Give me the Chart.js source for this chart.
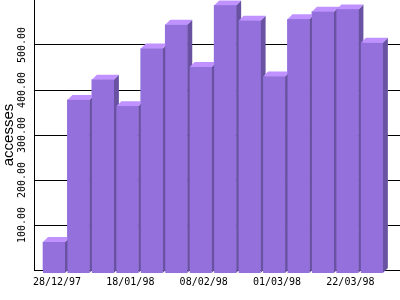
<!DOCTYPE html>
<html>
<head>
<meta charset="utf-8">
<script src="https://cdn.jsdelivr.net/npm/chart.js@4"></script>
<style>
  body { margin: 0; background: #fff; }
  #wrap { width: 400px; height: 300px; }
</style>
</head>
<body>
<div id="wrap"><canvas id="myChart" width="400" height="300"></canvas></div>
<script>
// weekly accesses
const weeks = ['28/12/97', '04/01/98', '11/01/98', '18/01/98', '25/01/98', '01/02/98', '08/02/98',
               '15/02/98', '22/02/98', '01/03/98', '08/03/98', '15/03/98', '22/03/98', '29/03/98'];
const accesses = [62, 378, 423, 364, 492, 545, 451, 588, 554, 430, 557, 574, 579, 505];
const shownWeeks = [0, 3, 6, 9, 12];
const yTicks = [100, 200, 300, 400, 500];

const FRONT = 'rgb(147, 112, 219)';
const TOP = 'rgb(192, 146, 255)';
const SIDE = 'rgb(106, 82, 163)';

// draws the fake 3d look, bar by bar so the next bar covers the side of the previous
const bars3d = {
    id: 'bars3d',
    afterDatasetsDraw(chart) {
        const ctx = chart.ctx;
        const meta = chart.getDatasetMeta(0);
        const d = 5, drop = 3.5;
        ctx.save();
        meta.data.forEach(bar => {
            const p = bar.getProps(['x', 'y', 'width', 'base'], true);
            const l = p.x - p.width / 2, r = p.x + p.width / 2;
            const bottom = p.base + drop;
            ctx.fillStyle = SIDE;
            ctx.beginPath();
            ctx.moveTo(r, p.y);
            ctx.lineTo(r + d, p.y - d);
            ctx.lineTo(r + d, bottom - d);
            ctx.lineTo(r, bottom);
            ctx.closePath();
            ctx.fill();
            ctx.fillStyle = TOP;
            ctx.beginPath();
            ctx.moveTo(l, p.y);
            ctx.lineTo(l + d, p.y - d);
            ctx.lineTo(r + d, p.y - d);
            ctx.lineTo(r, p.y);
            ctx.closePath();
            ctx.fill();
            ctx.fillStyle = FRONT;
            ctx.fillRect(l, p.y, p.width, bottom - p.y);
        });
        ctx.restore();
    }
};

new Chart(document.getElementById('myChart').getContext('2d'), {
    type: 'bar',
    data: {
        datasets: [{
            label: 'accesses',
            data: accesses.map((v, i) => ({ x: i, y: v })),
            backgroundColor: FRONT,
            borderWidth: 0,
            barThickness: 22
        }]
    },
    options: {
        responsive: false,
        animation: false,
        layout: { padding: 0 },
        plugins: { legend: { display: false }, tooltip: { enabled: false } },
        scales: {
            x: {
                type: 'linear',
                offset: false,
                min: -0.818,
                max: 14.151,
                grid: { display: false, drawTicks: false, offset: false },
                border: { display: true, color: '#000', width: 1 },
                afterBuildTicks: scale => { scale.ticks = shownWeeks.map(v => ({ value: v })); },
                afterFit: scale => { scale.height = 30; },
                ticks: {
                    autoSkip: false,
                    maxRotation: 0,
                    padding: 6,
                    labelOffset: 3,
                    color: '#000',
                    font: { family: 'DejaVu Sans Mono', size: 10 },
                    callback: v => weeks[v]
                }
            },
            y: {
                min: 0,
                max: 600,
                afterBuildTicks: scale => { scale.ticks = [0].concat(yTicks, [600]).map(v => ({ value: v })); },
                afterFit: scale => { scale.width = 34; },
                grid: {
                    drawTicks: false,
                    color: c => (c.tick && c.tick.value === 600) ? 'rgba(0,0,0,0)' : '#000'
                },
                border: { display: true, color: '#000', width: 1 },
                title: {
                    display: true,
                    text: 'accesses',
                    color: '#000',
                    padding: 0,
                    font: { family: 'Liberation Sans', size: 15 }
                },
                ticks: {
                    minRotation: 90,
                    maxRotation: 90,
                    crossAlign: 'center',
                    padding: -6,
                    color: '#000',
                    font: { family: 'DejaVu Sans Mono', size: 10 },
                    callback: v => yTicks.includes(v) ? v.toFixed(2) : ''
                }
            }
        }
    },
    plugins: [bars3d]
});
</script>
</body>
</html>
